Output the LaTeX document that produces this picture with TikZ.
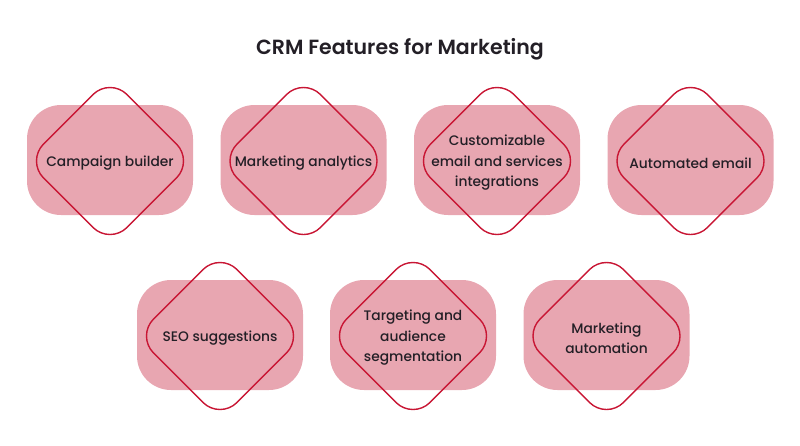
\documentclass[tikz,border=0pt]{standalone}
\usepackage{fontspec}
\setmainfont{Poppins}
\newfontfamily\medfont{Poppins Medium}
\newfontfamily\semifont{Poppins SemiBold}
\usepackage{xcolor}
\usetikzlibrary{positioning}

\definecolor{blobpink}{RGB}{232,166,177}
\definecolor{framered}{RGB}{200,22,52}
\definecolor{inkdark}{RGB}{35,31,38}

\begin{document}
\begin{tikzpicture}[x=1pt,y=-1pt,font=\medfont\fontsize{13.8}{20.5}\selectfont,
  blob/.style={fill=blobpink,minimum width=166pt,minimum height=110pt,rounded corners=34pt,inner sep=0pt},
  frame/.style={draw=framered,line width=1.4pt,rotate=45,minimum size=118pt,rounded corners=24pt,inner sep=0pt},
  label/.style={text=inkdark,align=center,inner sep=0pt}]
\useasboundingbox (0,0) rectangle (800,445);
% title
\node[text=inkdark,font=\semifont\fontsize{20.5}{24}\selectfont] (title) at (400,49) {CRM Features for Marketing};
% features: x/y/name/text
\foreach \cx/\cy/\nm/\txt in {110/160/cb/{Campaign builder},303.5/160/ma/{Marketing analytics},
  497/160/ce/{Customizable\\email and services\\integrations},690.5/160/ae/{Automated email},
  220/335/seo/{SEO suggestions},413/335/tas/{Targeting and\\audience\\segmentation},606.5/335/mau/{Marketing\\automation}}{
  \node[blob] (blob-\nm) at (\cx,\cy) {};
  \node[frame] (frame-\nm) at (\cx,\cy+1) {};
  \node[label] (\nm) at (\cx,\cy+3) {\txt};
}
\end{tikzpicture}
\end{document}
